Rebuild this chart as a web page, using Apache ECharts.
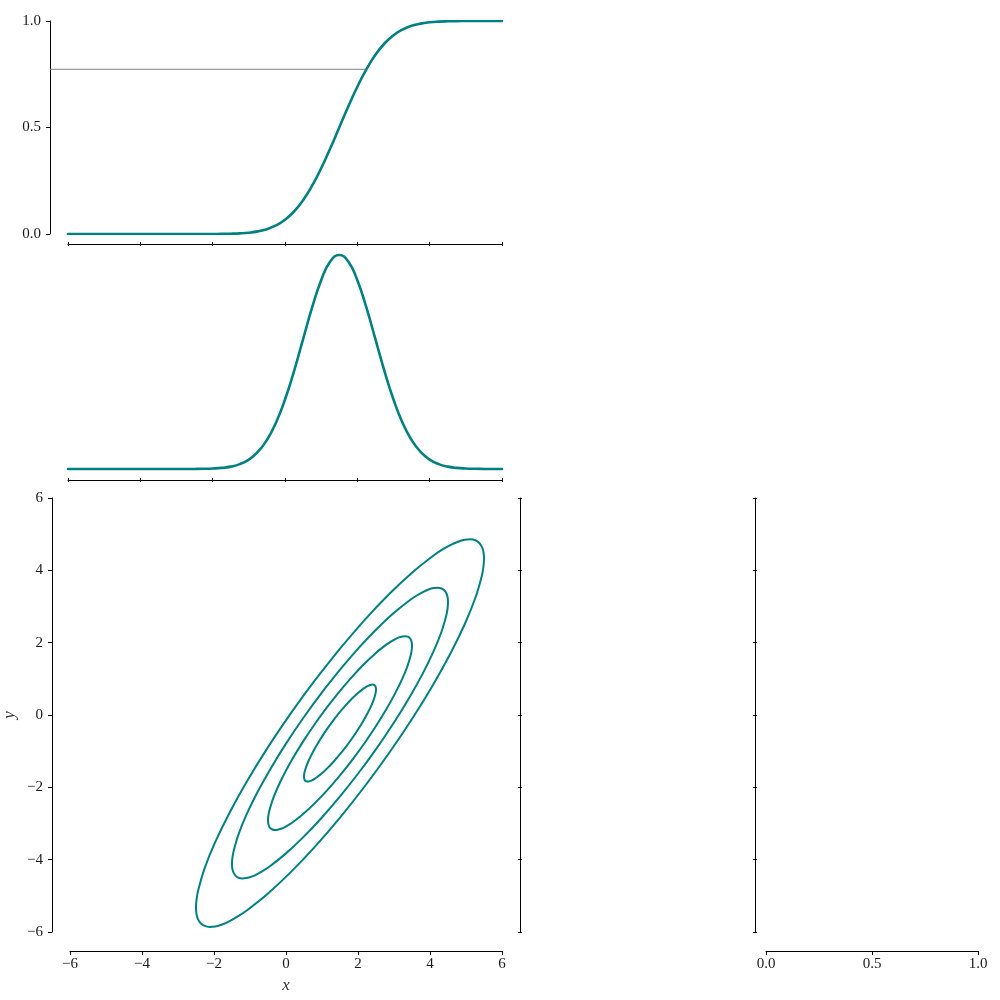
<!DOCTYPE html>
<html><head><meta charset="utf-8">
<script src="https://cdn.jsdelivr.net/npm/echarts@6/dist/echarts.min.js"></script>
<style>html,body{margin:0;padding:0;background:#fff}#chart{width:1000px;height:1000px}</style>
</head><body><div id="chart"></div>
<script>
// ---- data ----
const xValues = [-6,-5.75,-5.5,-5.25,-5,-4.75,-4.5,-4.25,-4,-3.75,-3.5,-3.25,-3,-2.75,
  -2.5,-2.25,-2,-1.75,-1.5,-1.25,-1,-0.75,-0.5,-0.25,0,0.25,0.5,0.75,1,1.25,1.5,1.75,2,2.25,
  2.5,2.75,3,3.25,3.5,3.75,4,4.25,4.5,4.75,5,5.25,5.5,5.75,6];
const cdfValues = [0,0,0,0,0,0,0,0,0,0,0,0,0,0,
  0.00003,0.00009,0.00023,0.00058,0.00135,0.00298,0.00621,0.01222,0.02275,0.04006,0.06681,0.10565,
  0.15866,0.22663,0.30854,0.40129,0.5,0.59871,0.69146,0.77337,0.84134,0.89435,0.93319,0.95994,
  0.97725,0.98778,0.99379,0.99702,0.99865,0.99942,0.99977,0.99991,0.99997,1,1];
const pdfValues = [0,0,0,0,0,0,0,0,0,0,0,0,0,0,
  0.00013,0.00035,0.00087,0.00203,0.00443,0.00909,0.01753,0.03174,0.05399,0.08628,0.12952,0.18265,
  0.24197,0.30114,0.35207,0.38667,0.39894,0.38667,0.35207,0.30114,0.24197,0.18265,0.12952,0.08628,
  0.05399,0.03174,0.01753,0.00909,0.00443,0.00203,0.00087,0.00035,0.00013,0.00005,0.00002];
const thresholdX = [-6.5, 2.25];
const thresholdY = 0.7734;

const contour1X = [1.5,1.326,1.158,1.0,0.857,0.734,0.634,0.560,0.515,0.504,0.5,0.504,0.515,0.534,0.560,0.594,0.634,0.681,0.734,0.793,0.857,1.0,1.158,1.326,1.5,1.674,1.842,2.0,2.143,2.266,2.366,2.440,2.485,2.496,2.5,2.496,2.485,2.466,2.440,2.406,2.366,2.319,2.266,2.207,2.143,2.0,1.842,1.674,1.5];
const contour1Y = [0.084,-0.134,-0.364,-0.597,-0.828,-1.048,-1.252,-1.434,-1.586,-1.651,-1.706,-1.752,-1.789,-1.816,-1.833,-1.840,-1.836,-1.823,-1.799,-1.766,-1.723,-1.609,-1.461,-1.285,-1.084,-0.866,-0.636,-0.403,-0.172,0.048,0.252,0.434,0.586,0.651,0.706,0.752,0.789,0.816,0.833,0.840,0.836,0.823,0.799,0.766,0.723,0.609,0.461,0.285,0.084];
const contour2X = [1.5,1.153,0.816,0.5,0.214,-0.032,-0.232,-0.379,-0.470,-0.492,-0.5,-0.492,-0.470,-0.432,-0.379,-0.313,-0.232,-0.138,-0.032,0.086,0.214,0.5,0.816,1.153,1.5,1.847,2.184,2.5,2.786,3.032,3.232,3.379,3.470,3.492,3.5,3.492,3.470,3.432,3.379,3.313,3.232,3.138,3.032,2.914,2.786,2.5,2.184,1.847,1.5];
const contour2Y = [0.668,0.231,-0.227,-0.695,-1.156,-1.597,-2.005,-2.367,-2.673,-2.801,-2.912,-3.005,-3.078,-3.132,-3.166,-3.180,-3.173,-3.146,-3.098,-3.031,-2.945,-2.717,-2.423,-2.069,-1.668,-1.231,-0.773,-0.305,0.156,0.597,1.005,1.367,1.673,1.801,1.912,2.005,2.078,2.132,2.166,2.180,2.173,2.146,2.098,2.031,1.945,1.717,1.423,1.069,0.668];
const contour3X = [1.5,0.979,0.474,0.0,-0.428,-0.798,-1.098,-1.319,-1.454,-1.489,-1.5,-1.489,-1.454,-1.398,-1.319,-1.219,-1.098,-0.958,-0.798,-0.621,-0.428,0.0,0.474,0.979,1.5,2.021,2.526,3.0,3.428,3.798,4.098,4.319,4.454,4.489,4.5,4.489,4.454,4.398,4.319,4.219,4.098,3.958,3.798,3.621,3.428,3.0,2.526,2.021,1.5];
const contour3Y = [1.252,0.597,-0.091,-0.792,-1.484,-2.145,-2.757,-3.301,-3.759,-3.952,-4.118,-4.257,-4.367,-4.448,-4.499,-4.519,-4.509,-4.469,-4.398,-4.297,-4.168,-3.826,-3.384,-2.854,-2.252,-1.597,-0.909,-0.208,0.484,1.145,1.757,2.301,2.759,2.952,3.118,3.257,3.367,3.448,3.499,3.519,3.509,3.469,3.398,3.297,3.168,2.826,2.384,1.854,1.252];
const contour4X = [1.5,0.806,0.132,-0.5,-1.071,-1.564,-1.964,-2.259,-2.439,-2.485,-2.5,-2.485,-2.439,-2.364,-2.259,-2.125,-1.964,-1.777,-1.564,-1.328,-1.071,-0.5,0.132,0.806,1.5,2.194,2.868,3.5,4.071,4.564,4.964,5.259,5.439,5.485,5.5,5.485,5.439,5.364,5.259,5.125,4.964,4.777,4.564,4.328,4.071,3.5,2.868,2.194,1.5];
const contour4Y = [1.836,0.963,0.045,-0.889,-1.812,-2.694,-3.510,-4.234,-4.845,-5.102,-5.324,-5.509,-5.656,-5.764,-5.832,-5.859,-5.846,-5.792,-5.697,-5.563,-5.390,-4.935,-4.345,-3.638,-2.836,-1.963,-1.045,-0.111,0.812,1.694,2.510,3.234,3.845,4.102,4.324,4.509,4.656,4.764,4.832,4.859,4.846,4.792,4.697,4.563,4.390,3.935,3.345,2.638,1.836];

const xyTickRange = [-6, 6];      // ticks every 2
const cdfTickRange = [0, 1];      // ticks every 0.5
const unitTickRange = [0, 1];     // ticks every 0.5
const xAxisTitle = 'x';
const yAxisTitle = 'y';

// ---- chart ----
const TEAL = '#008080';
const FONT = 'Liberation Serif';
const labelStyle = {fontFamily: FONT, fontSize: 15, color: '#1a1a1a'};
const minusFmt = v => (v < 0 ? '\u2212' : '') + Math.abs(v);
const fixedFmt = v => v.toFixed(1);
const zip = (a, b) => a.map((v, i) => [v, b[i]]);

function axis(o) {
  const base = {
    type: 'value', splitLine: {show: false},
    axisLine: {show: true, onZero: false, lineStyle: {color: '#000', width: 1}},
    axisTick: {show: true, inside: false, length: 4, lineStyle: {color: '#000', width: 1}},
    axisLabel: Object.assign({show: false}, labelStyle)
  };
  return Object.assign(base, o);
}

const G = [
  {left: 68, top: 21, width: 434, height: 213},   // 0 CDF
  {left: 68, top: 244, width: 434, height: 236},  // 1 PDF
  {left: 68, top: 498, width: 434, height: 434},  // 2 contour
  {left: 520, top: 498, width: 200, height: 434}, // 3 empty
  {left: 766, top: 498, width: 212, height: 434}  // 4 empty with x axis
];
// twins 5..8 for two-sided ticks; 9 = CDF panel extended to the spine for the threshold line
const grids = G.concat([G[0], G[1], G[3], G[4], {left: 50, top: 21, width: 452, height: 213}]);

const tickHalf = {show: true, inside: false, length: 2, lineStyle: {color: '#000', width: 1}};
const tickIn = {show: true, inside: true, length: 2, lineStyle: {color: '#000', width: 1}};
const noLine = {show: false, onZero: false};

const xAxes = [
  axis({gridIndex: 0, min: xyTickRange[0], max: xyTickRange[1], interval: 2, offset: 10, axisTick: tickHalf}),
  axis({gridIndex: 1, min: xyTickRange[0], max: xyTickRange[1], interval: 2, offset: 0, axisTick: tickHalf}),
  axis({gridIndex: 2, min: xyTickRange[0], max: xyTickRange[1], interval: 2, offset: 19,
        axisLabel: Object.assign({show: true, margin: 6, formatter: minusFmt}, labelStyle),
        name: xAxisTitle, nameLocation: 'middle', nameGap: 26,
        nameTextStyle: {fontFamily: FONT, fontStyle: 'italic', fontSize: 17, color: '#333'}}),
  axis({gridIndex: 3, min: -6, max: 6, show: false}),
  axis({gridIndex: 4, min: unitTickRange[0], max: unitTickRange[1], interval: 0.5, offset: 19,
        axisLabel: Object.assign({show: true, margin: 6, formatter: fixedFmt}, labelStyle)}),
  axis({gridIndex: 5, min: xyTickRange[0], max: xyTickRange[1], interval: 2, offset: 10, axisLine: noLine, axisTick: tickIn}),
  axis({gridIndex: 6, min: xyTickRange[0], max: xyTickRange[1], interval: 2, offset: 0, axisLine: noLine, axisTick: tickIn}),
  axis({gridIndex: 7, min: 0, max: 1, show: false}),
  axis({gridIndex: 8, min: 0, max: 1, show: false}),
  axis({gridIndex: 9, min: thresholdX[0], max: xyTickRange[1], show: false})
];
const yAxes = [
  axis({gridIndex: 0, min: cdfTickRange[0], max: cdfTickRange[1], interval: 0.5, offset: 18,
        axisLabel: Object.assign({show: true, margin: 9, formatter: fixedFmt}, labelStyle)}),
  axis({gridIndex: 1, min: -0.0205, max: 0.4195, show: false}),
  axis({gridIndex: 2, min: xyTickRange[0], max: xyTickRange[1], interval: 2, offset: 18,
        axisLabel: Object.assign({show: true, margin: 9, formatter: minusFmt}, labelStyle),
        name: yAxisTitle, nameLocation: 'middle', nameGap: 34,
        nameTextStyle: {fontFamily: FONT, fontStyle: 'italic', fontSize: 17, color: '#333'}}),
  axis({gridIndex: 3, min: xyTickRange[0], max: xyTickRange[1], interval: 2, offset: 0, axisTick: tickHalf}),
  axis({gridIndex: 4, min: xyTickRange[0], max: xyTickRange[1], interval: 2, offset: 11, axisTick: tickHalf}),
  axis({gridIndex: 5, min: 0, max: 1, show: false}),
  axis({gridIndex: 6, min: 0, max: 1, show: false}),
  axis({gridIndex: 7, min: xyTickRange[0], max: xyTickRange[1], interval: 2, offset: 0, axisLine: noLine, axisTick: tickIn}),
  axis({gridIndex: 8, min: xyTickRange[0], max: xyTickRange[1], interval: 2, offset: 11, axisLine: noLine, axisTick: tickIn}),
  axis({gridIndex: 9, min: cdfTickRange[0], max: cdfTickRange[1], show: false})
];

function lineSeries(xi, data, width, extra) {
  return Object.assign({
    type: 'line', xAxisIndex: xi, yAxisIndex: xi, data: data,
    showSymbol: false, symbol: 'none', smooth: false,
    lineStyle: {color: TEAL, width: width, join: 'round', cap: 'round'}, itemStyle: {color: TEAL},
    emphasis: {disabled: true}, silent: true
  }, extra || {});
}

const series = [
  lineSeries(9, thresholdX.map(x => [x, thresholdY]), 1.2,
    {z: 1, lineStyle: {color: '#808080', width: 1.2}, itemStyle: {color: '#808080'}}),
  lineSeries(0, zip(xValues, cdfValues), 2.6, {smooth: true, z: 3}),
  lineSeries(1, zip(xValues, pdfValues), 2.6, {smooth: true}),
  lineSeries(2, zip(contour1X, contour1Y), 2, {smooth: 0.3}),
  lineSeries(2, zip(contour2X, contour2Y), 2, {smooth: 0.3}),
  lineSeries(2, zip(contour3X, contour3Y), 2, {smooth: 0.3}),
  lineSeries(2, zip(contour4X, contour4Y), 2, {smooth: 0.3})
];

const chart = echarts.init(document.getElementById('chart'), null, {renderer: 'canvas'});
chart.setOption({
  animation: false,
  backgroundColor: '#ffffff',
  grid: grids.map(g => Object.assign({containLabel: false}, g)),
  xAxis: xAxes,
  yAxis: yAxes,
  series: series
});
</script>
</body></html>
